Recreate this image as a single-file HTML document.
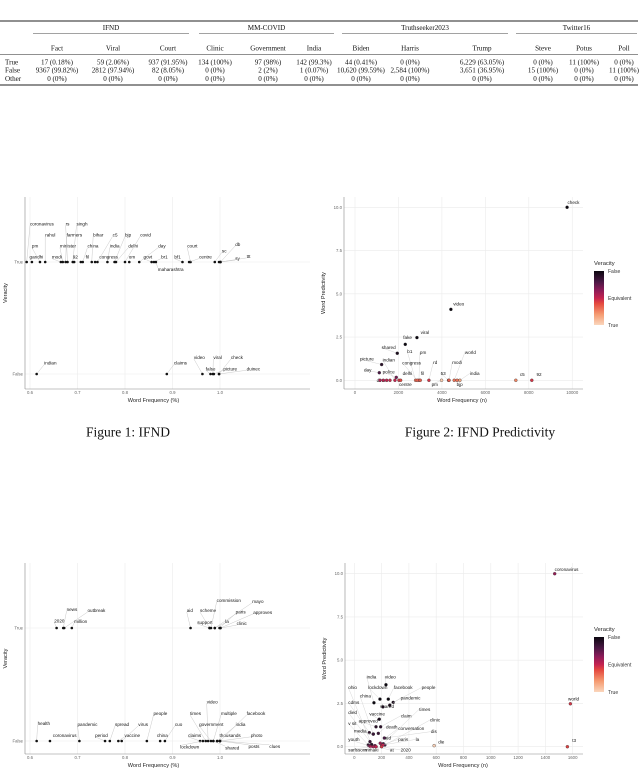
<!DOCTYPE html>
<html><head><meta charset="utf-8"><style>
html,body{margin:0;padding:0;background:#fff;width:640px;height:771px;overflow:hidden}
svg{display:block}
.serif{font-family:"Liberation Serif",serif;fill:#111}
.sans{font-family:"Liberation Sans",sans-serif}
</style></head><body>
<svg id="fig" width="640" height="771" viewBox="0 0 640 771" xmlns="http://www.w3.org/2000/svg">
<text class="serif" x="320" y="-3" font-size="13" text-anchor="middle">Word frequency and predictivity by dataset</text>
<text class="serif" x="128" y="436.5" font-size="13.5" text-anchor="middle">Figure 1: IFND</text>
<text class="serif" x="480" y="436.5" font-size="13.5" text-anchor="middle">Figure 2: IFND Predictivity</text>
</svg>
<script>
const NS='http://www.w3.org/2000/svg';
const svg=document.getElementById('fig');
function el(tag,attrs,parent){const e=document.createElementNS(NS,tag);for(const k in attrs)e.setAttribute(k,attrs[k]);(parent||svg).appendChild(e);return e;}

/* ---------------- TABLE ---------------- */
const groups=['IFND','MM-COVID','Truthseeker2023','Twitter16'];
const columns=['Fact','Viral','Court','Clinic','Government','India','Biden','Harris','Trump','Steve','Potus','Poll'];
const rowLabels=['True','False','Other'];
const rowTrue=['17 (0.18%)','59 (2.06%)','937 (91.95%)','134 (100%)','97 (98%)','142 (99.3%)','44 (0.41%)','0 (0%)','6,229 (63.05%)','0 (0%)','11 (100%)','0 (0%)'];
const rowFalse=['9367 (99.82%)','2812 (97.94%)','82 (8.05%)','0 (0%)','2 (2%)','1 (0.07%)','10,620 (99.59%)','2,584 (100%)','3,651 (36.95%)','15 (100%)','0 (0%)','11 (100%)'];
const rowOther=['0 (0%)','0 (0%)','0 (0%)','0 (0%)','0 (0%)','0 (0%)','0 (0%)','0 (0%)','0 (0%)','0 (0%)','0 (0%)','0 (0%)'];
(function(){
 const colX=[57,113,168,215,268,314,361,410,482,543,584,624];
 const grpSpan=[[33,189],[199,334],[342,508],[516,637]];
 const fs=7.1;
 const t=el('g',{});
 
 
 let r=el('line',{x1:0,x2:638,y1:21,y2:21,stroke:'#222','stroke-width':0.9},t);
 
 
 r=el('line',{x1:0,x2:638,y1:54.5,y2:54.5,stroke:'#222','stroke-width':0.5},t);
 
 
 r=el('line',{x1:0,x2:638,y1:85,y2:85,stroke:'#222','stroke-width':0.9},t);
 
 
 groups.forEach((g,i)=>{
  const s=grpSpan[i];
  const tx=el('text',{x:(s[0]+s[1])/2,y:30,'font-size':fs,'text-anchor':'middle',class:'serif'},t);tx.textContent=g;
  
  
  const ln=el('line',{x1:s[0],x2:s[1],y1:33.5,y2:33.5,stroke:'#444','stroke-width':0.5},t);
  
  
 });
 columns.forEach((c,i)=>{
  const tx=el('text',{x:colX[i],y:50.5,'font-size':fs,'text-anchor':'middle',class:'serif'},t);tx.textContent=c;
  
  
 });
 const rows=[rowTrue,rowFalse,rowOther];const ry=[64.5,72.5,81];
 rows.forEach((row,j)=>{
  const lb=el('text',{x:5,y:ry[j],'font-size':fs,class:'serif'},t);lb.textContent=rowLabels[j];
  
  
  row.forEach((v,i)=>{
   const tx=el('text',{x:colX[i],y:ry[j],'font-size':fs,'text-anchor':'middle',class:'serif'},t);tx.textContent=v;
   
   
  });
 });
})();

/* ---------------- COLOUR SCALE ---------------- */
const colorStops=[[0,'#fad6bd'],[0.2,'#f59a70'],[0.4,'#e4493f'],[0.5,'#c42350'],[0.65,'#8a1b58'],[0.8,'#4a1844'],[1,'#0b0710']];
function hex(c){return [parseInt(c.slice(1,3),16),parseInt(c.slice(3,5),16),parseInt(c.slice(5,7),16)];}
function colorAt(t){for(let i=1;i<colorStops.length;i++){if(t<=colorStops[i][0]){const a=colorStops[i-1],b=colorStops[i];const f=(t-a[0])/(b[0]-a[0]);const A=hex(a[1]),B=hex(b[1]);return 'rgb('+A.map((v,k)=>Math.round(v+(B[k]-v)*f)).join(',')+')';}}return colorStops[colorStops.length-1][1];}

/* ---------------- CHART 1 DATA (IFND veracity) ---------------- */
const c1TrueWords=['coronavirus','gandhi','pm','rahul','modi','minister','rs','farmers','singh','92','fil','china','bihar','congress','c5','india','bjp','delhi','covid','om','day','govt','br1','maharashtra','bf1','court','centre','sc','db','sy','ttt'];
const c1TrueFreq=[0.593,0.604,0.621,0.632,0.665,0.669,0.679,0.675,0.690,0.693,0.707,0.711,0.730,0.737,0.742,0.763,0.778,0.781,0.800,0.809,0.830,0.856,0.861,0.865,0.921,0.938,0.935,0.989,1.001,0.998,1.001];
const c1TrueLabelX=[0.600,0.599,0.604,0.632,0.646,0.663,0.675,0.677,0.698,0.690,0.717,0.721,0.733,0.746,0.774,0.768,0.800,0.807,0.832,0.808,0.870,0.839,0.876,0.869,0.904,0.931,0.956,1.004,1.032,1.032,1.056];
const c1TrueLabelY=[1.34,1.044,1.142,1.243,1.044,1.142,1.34,1.243,1.34,1.044,1.044,1.142,1.243,1.044,1.243,1.142,1.243,1.142,1.243,1.044,1.142,1.044,1.044,0.935,1.044,1.142,1.044,1.10,1.157,1.03,1.05];
const c1FalseWords=['indian','claims','video','false','viral','picture','duinec','check'];
const c1FalseFreq=[0.614,0.888,0.963,0.980,0.985,0.987,0.998,0.998];
const c1FalseLabelX=[0.630,0.903,0.945,0.970,0.986,1.007,1.056,1.023];
const c1FalseLabelY=[0.098,0.098,0.148,0.047,0.148,0.047,0.047,0.148];

/* ---------------- CHART 3 DATA (MM-COVID veracity) ---------------- */
const c3TrueWords=['2020','news','outbreak','million','aid','scheme','support','commission','mayo','paris','approves','la','clinic'];
const c3TrueFreq=[0.656,0.670,0.672,0.688,0.938,0.978,0.978,0.981,0.989,0.999,1.001,0.989,1.001];
const c3TrueLabelX=[0.651,0.677,0.721,0.693,0.930,0.958,0.952,0.993,1.068,1.033,1.070,1.011,1.035];
const c3TrueLabelY=[1.065,1.163,1.154,1.059,1.154,1.154,1.050,1.246,1.237,1.142,1.139,1.059,1.039];
const c3FalseWords=['health','coronavirus','pandemic','period','spread','vaccine','virus','people','china','cuo','claims','lockdown','times','video','government','multiple','shared','thousands','india','facebook','photo','posts','clues'];
const c3FalseFreq=[0.614,0.642,0.704,0.758,0.768,0.786,0.793,0.846,0.874,0.884,0.958,0.964,0.970,0.975,0.981,0.986,0.986,0.994,0.994,1.0,1.0,1.0,1.0];
const c3FalseLabelX=[0.616,0.648,0.700,0.737,0.779,0.799,0.828,0.860,0.867,0.905,0.933,0.916,0.937,0.972,0.956,1.002,1.011,0.999,1.033,1.056,1.065,1.060,1.104];
const c3FalseLabelY=[0.154,0.050,0.148,0.050,0.148,0.050,0.148,0.243,0.050,0.148,0.050,-0.053,0.243,0.347,0.148,0.243,-0.059,0.050,0.148,0.243,0.050,-0.047,-0.047];
const freqTicks=[0.6,0.7,0.8,0.9,1.0];
const freqTickLabels=['0.6','0.7','0.8','0.9','1.0'];

/* ---------------- CHART 2 DATA (IFND predictivity) ---------------- */
const c2Words=['check','video','viral','fake','shared','picture','day','police','indian','dimm','','','','b1','pm','congress','delhi','fil','rd','centre','pm','53','modi','world','india','bjp','c5','92'];
const c2Freq=[9762,4414,2851,2314,1946,1226,1119,1900,1839,1149,1303,1456,1609,2789,2943,2866,2023,3004,3402,2100,3985,4307,4330,4567,4828,4700,7402,8138];
const c2Pred=[10.0,4.10,2.47,2.08,1.56,0.91,0.44,0.17,0,0,0,0,0,0,0,0,0,0,0,0,0,0,0,0,0,0,0,0];
const c2Veracity=[1,1,1,1,0.95,0.9,0.8,0.7,0.5,0.55,0.52,0.5,0.48,0.3,0.35,0.35,0.45,0.35,0.45,0.4,0.03,0.35,0.35,0.3,0.15,0.3,0.25,0.45];
const c2LabelN=[9780,4522,3020,2223,1226,230,414,1272,1272,996,0,0,0,2407,2989,2177,2192,3035,3603,2024,3526,3940,4476,5059,5289,4676,7588,8355];
const c2LabelP=[10.27,4.41,2.78,2.47,1.89,1.23,0.60,0.50,1.17,0,0,0,0,1.66,1.62,1.02,0.40,0.40,1.04,-0.23,-0.23,0.40,1.04,1.62,0.40,-0.23,0.35,0.35];
const c2XTicks=[0,2000,4000,6000,8000,10000];
const c2XTickLabels=['0','2000','4000','6000','8000','10000'];
const predTicks=[0,2.5,5,7.5,10];
const predTickLabels=['0.0','2.5','5.0','7.5','10.0'];

/* ---------------- CHART 4 DATA (MM-COVID predictivity) ---------------- */
const c4Words=['coronavirus','world','t3','video','india','lockdown','facebook','people','ohio','china','pandemic','shared','vaccine','cdms','died','approved','claim','times','v sit','death','clinic','media','conversation','dis','youth','aid','paris','la','die','sarlssom','mmaki','at','2020'];
const c4Freq=[1468,1583,1561,232,144,188,249,285,127,139,260,210,183,110,115,159,193,212,102,176,224,139,151,220,110,190,200,210,585,120,140,160,200];
const c4Pred=[10,2.48,0,3.58,2.54,2.75,2.75,2.56,0.13,0.73,2.4,2.3,1.59,0.81,0.29,1.15,1.15,0.17,0.1,0.77,0.1,0.73,0.06,0.5,0.05,0.2,0.1,0.1,0.06,0,0,0,0];
const c4Veracity=[0.62,0.45,0.42,1,1,1,1,0.95,0.9,0.9,0.95,0.95,0.95,0.9,0.85,0.9,0.9,0.8,0.9,0.85,0.8,0.85,0.7,0.8,0.7,0.6,0.55,0.5,0.02,0.55,0.55,0.5,0.45];
const c4LabelN=[1468,1566,1597,224,90,102,290,493,-44,41,339,188,110,-44,-44,32,341,476,-44,232,554,-2,322,561,-44,224,322,449,615,-44,78,261,339];
const c4LabelP=[10.25,2.75,0.35,4.04,4.04,3.42,3.42,3.42,3.42,2.94,2.81,2.33,1.90,2.56,1.98,1.50,1.79,2.17,1.35,1.15,1.54,0.92,1.06,0.87,0.42,0.52,0.42,0.42,0.29,-0.19,-0.19,-0.19,-0.19];
const c4XTicks=[0,200,400,600,800,1000,1200,1400,1600];
const c4XTickLabels=['0','200','400','600','800','1000','1200','1400','1600'];

/* ---------------- DRAWING ---------------- */
function txt(g,x,y,s,size,fill,anchor,name){const t=el('text',{x:x,y:y,'font-size':size,fill:fill,'text-anchor':anchor||'start',class:'sans'},g);t.textContent=s;
 
 
 return t;}

function veracityChart(name,box,trueSet,falseSet){
 const g=el('g',{});
 
 
 const xs=v=>box.x0+(v-0.6)*box.k;
 const ys=L=>box.yF-L*(box.yF-box.yT);
 freqTicks.forEach((v,i)=>{
  const l=el('line',{x1:xs(v),x2:xs(v),y1:box.top,y2:box.bottom,stroke:'#ebebeb','stroke-width':0.6},g);
  
  
  txt(g,xs(v),box.bottom+5,freqTickLabels[i],4.3,'#666','middle','x-tick-label');
 });
 [1,0].forEach(L=>{
  const l=el('line',{x1:box.left,x2:box.right,y1:ys(L),y2:ys(L),stroke:'#ebebeb','stroke-width':0.6},g);
  
  
 });
 txt(g,box.left-2,ys(1)+1.5,'True',4.3,'#666','end','y-tick-true');
 txt(g,box.left-2,ys(0)+1.5,'False',4.3,'#666','end','y-tick-false');
 let a=el('line',{x1:box.left,x2:box.left,y1:box.top,y2:box.bottom,stroke:'#888','stroke-width':0.6},g);
 
 
 a=el('line',{x1:box.left,x2:box.right,y1:box.bottom,y2:box.bottom,stroke:'#888','stroke-width':0.6},g);
 
 
 txt(g,(box.left+box.right)/2-14,box.bottom+13,'Word Frequency (%)',5.6,'#222','middle','x-axis-title');
 const yt=txt(g,0,0,'Veracity',5.6,'#222','middle','y-axis-title');
 yt.setAttribute('transform','translate(7,'+((box.top+box.bottom)/2)+') rotate(-90)');
 [[trueSet,1],[falseSet,0]].forEach(([s,L])=>{
  s.words.forEach((w,i)=>{
   const px=xs(s.freq[i]),py=ys(L);
   const lx=xs(s.lx[i]),ly=ys(s.ly[i]);
   if(Math.hypot(lx-px,ly-py)>7){
    const ld=el('line',{x1:px,y1:py,x2:lx,y2:ly+(ly<py?1.5:-1.5),stroke:'#bbb','stroke-width':0.4},g);
    
    
   }
   const c=el('circle',{cx:px,cy:py,r:1.3,fill:'#111'},g);
   
   
   txt(g,lx,ly+1.6,w,4.6,'#111','start','label-'+w);
  });
 });
}
veracityChart('chart-ifnd-veracity',{x0:30,k:475,yT:262,yF:374,left:25,right:310,top:197,bottom:389},
 {words:c1TrueWords,freq:c1TrueFreq,lx:c1TrueLabelX,ly:c1TrueLabelY},
 {words:c1FalseWords,freq:c1FalseFreq,lx:c1FalseLabelX,ly:c1FalseLabelY});
veracityChart('chart-mmcovid-veracity',{x0:30,k:475,yT:628,yF:741,left:25,right:310,top:563,bottom:754},
 {words:c3TrueWords,freq:c3TrueFreq,lx:c3TrueLabelX,ly:c3TrueLabelY},
 {words:c3FalseWords,freq:c3FalseFreq,lx:c3FalseLabelX,ly:c3FalseLabelY});

function predChart(name,box,d){
 const g=el('g',{});
 
 
 const xs=n=>box.x0+n*box.kx;
 const ys=p=>box.y0-p*box.ky;
 d.xt.forEach((v,i)=>{
  const l=el('line',{x1:xs(v),x2:xs(v),y1:box.top,y2:box.bottom,stroke:'#ebebeb','stroke-width':0.6},g);
  
  
  txt(g,xs(v),box.bottom+5,d.xtl[i],4.3,'#666','middle','x-tick-label');
 });
 predTicks.forEach((v,i)=>{
  const l=el('line',{x1:box.left,x2:box.right,y1:ys(v),y2:ys(v),stroke:'#ebebeb','stroke-width':0.6},g);
  
  
  txt(g,box.left-2,ys(v)+1.5,predTickLabels[i],4.3,'#666','end','y-tick-label');
 });
 let a=el('line',{x1:box.left,x2:box.left,y1:box.top,y2:box.bottom,stroke:'#888','stroke-width':0.6},g);
 
 
 a=el('line',{x1:box.left,x2:box.right,y1:box.bottom,y2:box.bottom,stroke:'#888','stroke-width':0.6},g);
 
 
 txt(g,box.left+118,box.bottom+13,'Word Frequency (n)',5.6,'#222','middle','x-axis-title');
 const yt=txt(g,0,0,'Word Predictivity',5.6,'#222','middle','y-axis-title');
 yt.setAttribute('transform','translate('+(box.left-19)+','+((box.top+box.bottom)/2)+') rotate(-90)');
 d.words.forEach((w,i)=>{
  const px=xs(d.n[i]),py=ys(d.p[i]);
  if(w){
   const lx=xs(d.ln[i]),ly=ys(d.lp[i]);
   if(Math.hypot(lx-px,ly-py)>8){
    const ld=el('line',{x1:px,y1:py,x2:lx,y2:ly,stroke:'#ccc','stroke-width':0.4},g);
    
    
   }
   txt(g,lx,ly+1.6,w,4.6,'#111','start','label-'+w);
  }
  const c=el('circle',{cx:px,cy:py,r:1.5,fill:colorAt(d.v[i]),stroke:'#333','stroke-width':0.35},g);
  
  
 });
 const lg=el('g',{},g);
 
 
 txt(lg,box.lgx,box.lgy-6,'Veracity',5.8,'#222','start','legend-title');
 const gid=name+'-grad';
 const defs=el('defs',{},lg);
 const gr=el('linearGradient',{id:gid,x1:0,y1:1,x2:0,y2:0},defs);
 colorStops.forEach(s=>{el('stop',{offset:s[0],'stop-color':s[1]},gr);});
 const bar=el('rect',{x:box.lgx,y:box.lgy,width:10,height:box.lgh,fill:'url(#'+gid+')'},lg);
 
 
 txt(lg,box.lgx+14,box.lgy+2,'False',5,'#333','start','legend-false');
 txt(lg,box.lgx+14,box.lgy+box.lgh/2+2,'Equivalent',5,'#333','start','legend-equivalent');
 txt(lg,box.lgx+14,box.lgy+box.lgh+2,'True',5,'#333','start','legend-true');
}
predChart('chart-ifnd-predictivity',{x0:355,kx:43.45/2000,y0:380.3,ky:17.3,left:344,right:583,top:197,bottom:389,lgx:594,lgy:271,lgh:54},
 {words:c2Words,n:c2Freq,p:c2Pred,v:c2Veracity,ln:c2LabelN,lp:c2LabelP,xt:c2XTicks,xtl:c2XTickLabels});
predChart('chart-mmcovid-predictivity',{x0:354.3,kx:27.3/200,y0:746.7,ky:17.3,left:345,right:583,top:563,bottom:754,lgx:594,lgy:637,lgh:55},
 {words:c4Words,n:c4Freq,p:c4Pred,v:c4Veracity,ln:c4LabelN,lp:c4LabelP,xt:c4XTicks,xtl:c4XTickLabels});
</script>
</body></html>
